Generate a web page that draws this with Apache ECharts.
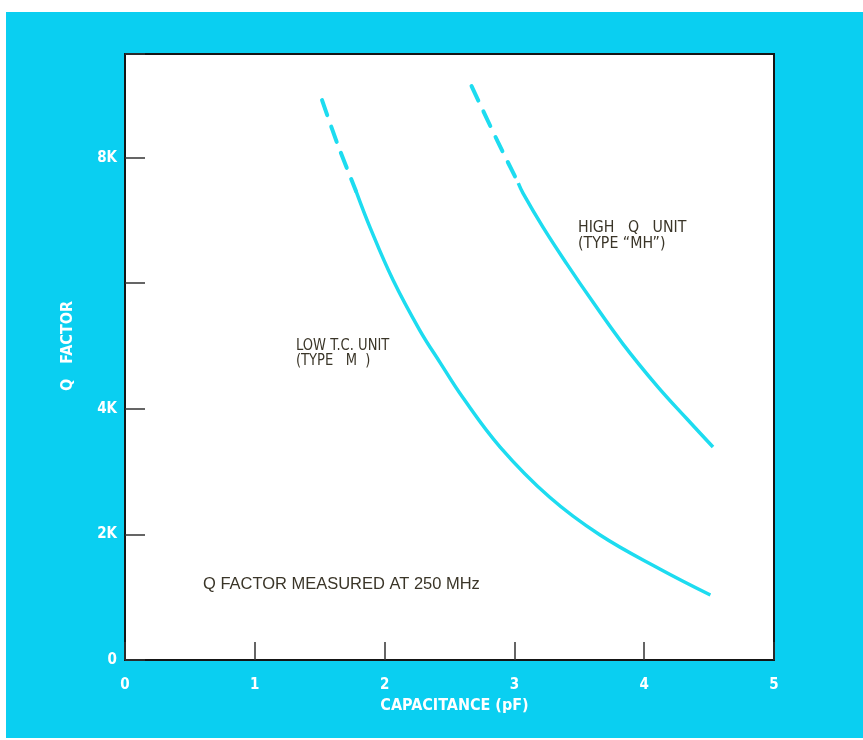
<!DOCTYPE html>
<html>
<head>
<meta charset="utf-8">
<script src="https://cdn.jsdelivr.net/npm/echarts@6/dist/echarts.min.js"></script>
<style>
  html, body { margin: 0; padding: 0; background: #ffffff; }
  #bg { position: absolute; left: 6px; top: 12px; width: 857px; height: 726px; background: #0acff1; }
  #chart { position: absolute; left: 0; top: 0; width: 863px; height: 740px; }
</style>
</head>
<body>
<div id="bg"></div>
<div id="chart"></div>
<script>
// ---- data ----
const xTickValues = [0, 1, 2, 3, 4, 5];
const yTickValues = [0, 2000, 4000, 6000, 8000];
const yTickLabels = ['0', '2K', '4K', '', '8K'];

// LOW T.C. UNIT (TYPE M)
const lowDashX = [1.518, 1.64, 1.78];
const lowDashY = [8915, 8200, 7466];
const lowSolidX = [1.78, 1.89, 2.065, 2.27, 2.43, 2.60, 2.89, 3.27, 3.66, 4.12, 4.51];
const lowSolidY = [7466, 6877, 6050, 5254, 4728, 4187, 3391, 2595, 1990, 1450, 1035];

// HIGH Q UNIT (TYPE "MH")
const highDashX = [2.67, 2.87, 3.03];
const highDashY = [9138, 8262, 7594];
const highSolidX = [3.03, 3.066, 3.22, 3.405, 3.605, 3.837, 4.10, 4.33, 4.53];
const highSolidY = [7594, 7435, 6893, 6304, 5699, 5031, 4362, 3837, 3391];

const condensed = '"DejaVu Sans Condensed", "Liberation Sans", sans-serif';
const annotations = [
  { text: 'LOW T.C. UNIT\n(TYPE   M  )', x: 296, y: 339, font: '15px ' + condensed, lh: 15, sx: 0.97 },
  { text: 'HIGH   Q   UNIT\n(TYPE \u201CMH\u201D)', x: 578, y: 220, font: '15px ' + condensed, lh: 16, sx: 1.05 },
  { text: 'Q FACTOR MEASURED AT 250 MHz', x: 203, y: 577, font: '16px "Liberation Sans", sans-serif', lh: 16, sx: 1.03 }
];

function pairs(xs, ys) { return xs.map((x, i) => [x, ys[i]]); }

const curveColor = '#1ddcf0';
const labelFont = '"DejaVu Sans Condensed", "Roboto", sans-serif';

const chart = echarts.init(document.getElementById('chart'), null, { renderer: 'canvas' });
chart.setOption({
  backgroundColor: 'transparent',
  animation: false,
  grid: {
    left: 125, top: 54, width: 649, height: 606,
    show: true, backgroundColor: '#ffffff', borderColor: '#151515', borderWidth: 2
  },
  xAxis: {
    type: 'value', min: 0, max: 5, interval: 1,
    name: 'CAPACITANCE (pF)', nameLocation: 'middle', nameGap: 37,
    nameTextStyle: { color: '#ffffff', fontSize: 16, fontWeight: 'bold', fontFamily: labelFont, padding: [0, 0, 0, 10] },
    axisLine: { show: false },
    axisTick: { show: true, inside: true, length: 18, lineStyle: { color: '#333', width: 1.5 } },
    axisLabel: { color: '#ffffff', fontSize: 15, fontWeight: 'bold', fontFamily: labelFont, margin: 18,
      formatter: v => xTickValues.includes(v) ? String(v) : '' },
    splitLine: { show: false }
  },
  yAxis: {
    type: 'value', min: 0, max: 9650, interval: 2000,
    name: 'Q   FACTOR', nameLocation: 'middle', nameGap: 49,
    nameTextStyle: { color: '#ffffff', fontSize: 16, fontWeight: 'bold', fontFamily: labelFont, padding: [0, 0, 0, 22] },
    axisLine: { show: false },
    axisTick: { show: true, inside: true, length: 20, lineStyle: { color: '#333', width: 1.5 } },
    axisLabel: { color: '#ffffff', fontSize: 15, fontWeight: 'bold', fontFamily: labelFont, margin: 8,
      formatter: v => { const i = yTickValues.indexOf(v); return i >= 0 ? yTickLabels[i] : ''; } },
    splitLine: { show: false }
  },
  series: [
    { type: 'line', data: pairs(lowDashX, lowDashY), smooth: 0.3, symbol: 'none',
      lineStyle: { color: curveColor, width: 4, type: [16, 12], cap: 'round' } },
    { type: 'line', data: pairs(lowSolidX, lowSolidY), smooth: 0.4, symbol: 'none',
      lineStyle: { color: curveColor, width: 3.5 } },
    { type: 'line', data: pairs(highDashX, highDashY), smooth: 0.3, symbol: 'none',
      lineStyle: { color: curveColor, width: 4, type: [16, 12], cap: 'round' } },
    { type: 'line', data: pairs(highSolidX, highSolidY), smooth: 0.4, symbol: 'none',
      lineStyle: { color: curveColor, width: 3.5 } }
  ],
  graphic: annotations.map(a => ({
    type: 'text', x: a.x, y: a.y, scaleX: a.sx, z: 100,
    style: { text: a.text, fill: '#3a3528', font: a.font, lineHeight: a.lh }
  }))
});
</script>
</body>
</html>
